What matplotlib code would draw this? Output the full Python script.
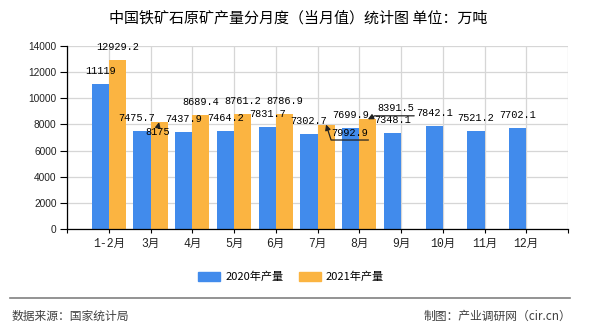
import numpy as np
import matplotlib
matplotlib.use("Agg")
import matplotlib.pyplot as plt
from matplotlib.patches import Patch
from matplotlib.lines import Line2D

# monthly iron ore output, 10k tonnes
months = ["1-2月", "3月", "4月", "5月", "6月", "7月", "8月", "9月", "10月", "11月", "12月"]
output_2020 = [11119, 7475.7, 7437.9, 7464.2, 7831.7, 7302.7, 7699.9, 7348.1, 7842.1, 7521.2, 7702.1]
output_2021 = [12929.2, 8175, 8689.4, 8761.2, 8786.9, 7992.9, 8391.5]
yticks = [0, 2000, 4000, 6000, 8000, 10000, 12000, 14000]

title = "中国铁矿石原矿产量分月度（当月值）统计图 单位：万吨"
source = "数据来源：国家统计局"
credit = "制图：产业调研网（cir.cn）"

blue = "#418bec"
orange = "#fbb441"
cjk = ["Noto Sans CJK SC", "DejaVu Sans"]
mono = ["Liberation Mono", "Noto Sans CJK SC"]

W, H = 590, 330
fig = plt.figure(figsize=(W / 100, H / 100), dpi=100)
ax = fig.add_axes([67 / W, 1 - 229 / H, (568 - 67) / W, (229 - 46) / H])

w = 0.41
x20 = np.arange(len(output_2020))
x21 = np.arange(len(output_2021))
ax.bar(x20 - w / 2, output_2020, width=w, color=blue, zorder=2)
ax.bar(x21 + w / 2, output_2021, width=w, color=orange, zorder=2)

ax.set_xlim(-1, 11)
ax.set_ylim(0, 14000)
ax.set_yticks(yticks)
ax.set_yticklabels([str(v) for v in yticks], family="Liberation Sans", fontsize=7.3, color="#222")
ax.set_xticks(range(-1, 12))
ax.set_xticklabels([""] + months + [""], family=mono, fontsize=8.3, color="#222")
ax.tick_params(axis="y", length=5, width=0.8, pad=2.5)
ax.tick_params(axis="x", length=3, width=0.8, pad=3.5)
ax.grid(True, color="#d6d6d6", lw=0.9, zorder=0)
ax.set_axisbelow(True)
for s in ["top", "right"]:
    ax.spines[s].set_visible(False)
for s in ["left", "bottom"]:
    ax.spines[s].set_color("black")
    ax.spines[s].set_linewidth(0.9)

# value labels: default sits 8 px above the bar, a few are pushed aside with a leader line
nudge = {("a", 1): (-5, 8)}
leaders = {
    # offset of text centre, start point on the text box, connection style
    ("b", 1): ((-1, -10), (0.5, 1.05), "arc3"),
    ("b", 5): ((24, -8), (1.0, -0.25), "angle,angleA=0,angleB=-72,rad=0"),
    ("b", 6): ((28, 11), (1.0, -0.25), "angle,angleA=0,angleB=27,rad=0"),
}
for key, xs, vals, off in [("a", x20, output_2020, -w / 2), ("b", x21, output_2021, w / 2)]:
    for i, (xi, v) in enumerate(zip(xs, vals)):
        label = f"{v:g}"
        if (key, i) in leaders:
            (dx, dy), rel, conn = leaders[(key, i)]
            ax.annotate(label, xy=(xi + off, v), xytext=(dx, dy), textcoords="offset pixels",
                        ha="center", va="center", family=mono, fontsize=7.4, zorder=5,
                        arrowprops=dict(arrowstyle="-|>", color="#222", lw=0.9,
                                        mutation_scale=8, shrinkA=0, shrinkB=0,
                                        patchA=None, relpos=rel, connectionstyle=conn))
        else:
            dx, dy = nudge.get((key, i), (0, 8))
            ax.annotate(label, xy=(xi + off, v), xytext=(dx, dy), textcoords="offset pixels",
                        ha="center", va="bottom", family=mono, fontsize=7.4, zorder=5)

fig.text(298 / W, 1 - 18 / H, title, family=cjk, fontsize=10.8, ha="center", va="center", color="black")

handles = [Patch(color=blue, label="2020年产量"), Patch(color=orange, label="2021年产量")]
fig.legend(handles=handles, loc="center", bbox_to_anchor=(291 / W, 1 - 277 / H), ncol=2,
           frameon=False, prop={"family": cjk, "size": 8}, handlelength=2.0, handleheight=0.8,
           handletextpad=0.45, columnspacing=1.4)

fig.add_artist(Line2D([10 / W, 570 / W], [1 - 298 / H] * 2, color="#808080", lw=1.2))
fig.text(12 / W, 1 - 316 / H, source, family=cjk, fontsize=8.5, color="#404040", va="center")
fig.text(571 / W, 1 - 316 / H, credit, family=cjk, fontsize=8.5, color="#404040", va="center", ha="right")

fig.savefig("out.png", dpi=100)
